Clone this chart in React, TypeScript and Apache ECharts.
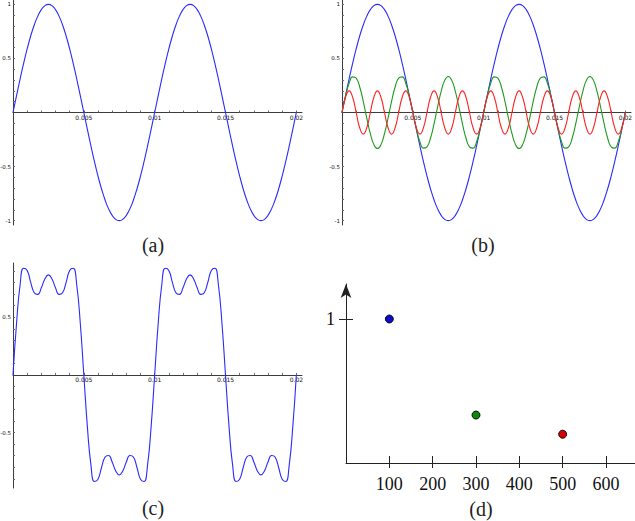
import React, { useEffect, useRef } from "react";
import * as echarts from "echarts";

// sampling grid of the waveforms (seconds)
const TIME_STEP = 0.00025;

// fundamental, 100 Hz
const fundamental = [
  0, 0.156, 0.309, 0.454, 0.588, 0.707, 0.809, 0.891, 0.951, 0.988, 1,
  0.988, 0.951, 0.891, 0.809, 0.707, 0.588, 0.454, 0.309, 0.156, 0,
  -0.156, -0.309, -0.454, -0.588, -0.707, -0.809, -0.891, -0.951, -0.988, -1,
  -0.988, -0.951, -0.891, -0.809, -0.707, -0.588, -0.454, -0.309, -0.156, 0,
  0.156, 0.309, 0.454, 0.588, 0.707, 0.809, 0.891, 0.951, 0.988, 1,
  0.988, 0.951, 0.891, 0.809, 0.707, 0.588, 0.454, 0.309, 0.156, 0,
  -0.156, -0.309, -0.454, -0.588, -0.707, -0.809, -0.891, -0.951, -0.988, -1,
  -0.988, -0.951, -0.891, -0.809, -0.707, -0.588, -0.454, -0.309, -0.156, 0,
];

// third harmonic, 300 Hz
const thirdHarmonic = [
  0, 0.151, 0.27, 0.329, 0.317, 0.236, 0.103, -0.052, -0.196, -0.297, -0.333,
  -0.297, -0.196, -0.052, 0.103, 0.236, 0.317, 0.329, 0.27, 0.151, 0,
  -0.151, -0.27, -0.329, -0.317, -0.236, -0.103, 0.052, 0.196, 0.297, 0.333,
  0.297, 0.196, 0.052, -0.103, -0.236, -0.317, -0.329, -0.27, -0.151, 0,
  0.151, 0.27, 0.329, 0.317, 0.236, 0.103, -0.052, -0.196, -0.297, -0.333,
  -0.297, -0.196, -0.052, 0.103, 0.236, 0.317, 0.329, 0.27, 0.151, 0,
  -0.151, -0.27, -0.329, -0.317, -0.236, -0.103, 0.052, 0.196, 0.297, 0.333,
  0.297, 0.196, 0.052, -0.103, -0.236, -0.317, -0.329, -0.27, -0.151, 0,
];

// fifth harmonic, 500 Hz
const fifthHarmonic = [
  0, 0.141, 0.2, 0.141, 0, -0.141, -0.2, -0.141,
  0, 0.141, 0.2, 0.141, 0, -0.141, -0.2, -0.141,
  0, 0.141, 0.2, 0.141, 0, -0.141, -0.2, -0.141,
  0, 0.141, 0.2, 0.141, 0, -0.141, -0.2, -0.141,
  0, 0.141, 0.2, 0.141, 0, -0.141, -0.2, -0.141,
  0, 0.141, 0.2, 0.141, 0, -0.141, -0.2, -0.141,
  0, 0.141, 0.2, 0.141, 0, -0.141, -0.2, -0.141,
  0, 0.141, 0.2, 0.141, 0, -0.141, -0.2, -0.141,
  0, 0.141, 0.2, 0.141, 0, -0.141, -0.2, -0.141,
  0, 0.141, 0.2, 0.141, 0, -0.141, -0.2, -0.141,
  0,
];

// sum of the three components
const combinedWave = [
  0, 0.448, 0.779, 0.924, 0.905, 0.802, 0.712, 0.698, 0.755, 0.832, 0.867,
  0.832, 0.755, 0.698, 0.712, 0.802, 0.905, 0.924, 0.779, 0.448, 0,
  -0.448, -0.779, -0.924, -0.905, -0.802, -0.712, -0.698, -0.755, -0.832, -0.867,
  -0.832, -0.755, -0.698, -0.712, -0.802, -0.905, -0.924, -0.779, -0.448, 0,
  0.448, 0.779, 0.924, 0.905, 0.802, 0.712, 0.698, 0.755, 0.832, 0.867,
  0.832, 0.755, 0.698, 0.712, 0.802, 0.905, 0.924, 0.779, 0.448, 0,
  -0.448, -0.779, -0.924, -0.905, -0.802, -0.712, -0.698, -0.755, -0.832, -0.867,
  -0.832, -0.755, -0.698, -0.712, -0.802, -0.905, -0.924, -0.779, -0.448, 0,
];

// spectrum (d)
const spectrumFreq = [100, 300, 500];
const spectrumAmp = [1, 0.333, 0.2];
const spectrumColors = ["#0a0ad0", "#078a07", "#d80000"];

// tick labels / tick positions
const waveXLabels = [0.005, 0.01, 0.015, 0.02];
const waveXMinor = [
  0.001, 0.002, 0.003, 0.004, 0.005, 0.006, 0.007, 0.008, 0.009, 0.01,
  0.011, 0.012, 0.013, 0.014, 0.015, 0.016, 0.017, 0.018, 0.019, 0.02,
];
const waveYLabelsAB = [-1, -0.5, 0.5, 1];
const waveYLabelsC = [-0.5, 0.5];
const waveYMinor = [
  -1, -0.9, -0.8, -0.7, -0.6, -0.5, -0.4, -0.3, -0.2, -0.1,
  0.1, 0.2, 0.3, 0.4, 0.5, 0.6, 0.7, 0.8, 0.9, 1,
];
const waveYMinorC = [
  -0.9, -0.8, -0.7, -0.6, -0.5, -0.4, -0.3, -0.2, -0.1,
  0.1, 0.2, 0.3, 0.4, 0.5, 0.6, 0.7, 0.8, 0.9,
];
const freqTicks = [100, 200, 300, 400, 500, 600];
const ampTicks = [1];
const panelLabels = ["(a)", "(b)", "(c)", "(d)"];

const BLUE = "#2a2aff";
const GREEN = "#1f9a1f";
const RED = "#ff2222";
const AXIS = "#3c3c3c";
const SERIF = "'Liberation Serif', 'DejaVu Serif', serif";

const pts = (vals: number[]) => vals.map((v, i) => [i * TIME_STEP, v]);

// x axis drawn through y = 0 (offset upwards from the grid's bottom edge)
function waveX(gridIndex: number, zeroOffset: number) {
  return {
    type: "value",
    gridIndex,
    position: "bottom",
    offset: -zeroOffset,
    min: 0,
    max: 0.0204,
    axisLine: { show: true, onZero: false, lineStyle: { color: AXIS, width: 1 } },
    axisTick: {
      show: true,
      inside: true,
      length: 2,
      customValues: waveXMinor,
      lineStyle: { color: "#666", width: 1 },
    },
    axisLabel: {
      show: true,
      customValues: waveXLabels,
      formatter: (v: number) => String(v),
      fontSize: 6,
      fontFamily: "DejaVu Sans",
      color: "#111",
      margin: 2,
    },
    splitLine: { show: false },
  };
}

function waveY(gridIndex: number, min: number, max: number, labels: number[], minor: number[]) {
  return {
    type: "value",
    gridIndex,
    position: "left",
    min,
    max,
    axisLine: { show: true, onZero: false, lineStyle: { color: AXIS, width: 1 } },
    axisTick: {
      show: true,
      inside: true,
      length: 2,
      customValues: minor,
      lineStyle: { color: "#666", width: 1 },
    },
    axisLabel: {
      show: true,
      customValues: labels,
      formatter: (v: number) => String(v),
      fontSize: 5.5,
      fontFamily: "DejaVu Sans",
      color: "#111",
      margin: 2,
    },
    splitLine: { show: false },
  };
}

function lineSeries(x: number, y: number, vals: number[], color: string) {
  return {
    type: "line",
    xAxisIndex: x,
    yAxisIndex: y,
    data: pts(vals),
    smooth: true,
    showSymbol: false,
    symbol: "none",
    lineStyle: { color, width: 1.1 },
    itemStyle: { color },
    silent: true,
  };
}

export default function App() {
  const ref = useRef<HTMLDivElement>(null);

  useEffect(() => {
    if (!ref.current) return;
    const chart = echarts.init(ref.current, undefined, { renderer: "svg" });

    const option: any = {
      animation: false,
      backgroundColor: "#ffffff",
      grid: [
        { left: 13, top: 0, width: 289, height: 225, containLabel: false, outerBoundsMode: "none" },
        { left: 342, top: 0, width: 289, height: 225, containLabel: false, outerBoundsMode: "none" },
        { left: 13, top: 263, width: 289, height: 225, containLabel: false, outerBoundsMode: "none" },
        { left: 346, top: 284, right: 0, height: 179, containLabel: false, outerBoundsMode: "none" },
      ],
      xAxis: [
        waveX(0, 112.5),
        waveX(1, 112.5),
        waveX(2, 113.1),
        {
          type: "value",
          gridIndex: 3,
          position: "bottom",
          min: 0,
          max: 667,
          axisLine: { show: true, onZero: false, lineStyle: { color: "#222", width: 1 } },
          axisTick: { show: true, inside: false, length: 5, customValues: freqTicks, lineStyle: { color: "#222", width: 1 } },
          axisLabel: {
            show: true,
            customValues: freqTicks,
            formatter: (v: number) => String(v),
            fontSize: 18,
            fontFamily: SERIF,
            color: "#111",
            margin: 12,
          },
          splitLine: { show: false },
        },
        {
          type: "value",
          gridIndex: 3,
          position: "bottom",
          min: 0,
          max: 667,
          axisLine: { show: false, onZero: false },
          axisTick: { show: true, inside: true, length: 7, customValues: freqTicks, lineStyle: { color: "#222", width: 1 } },
          axisLabel: { show: false },
          splitLine: { show: false },
        },
      ],
      yAxis: [
        waveY(0, -1.04, 1.04, waveYLabelsAB, waveYMinor),
        waveY(1, -1.04, 1.04, waveYLabelsAB, waveYMinor),
        waveY(2, -0.98, 0.97, waveYLabelsC, waveYMinorC),
        {
          type: "value",
          gridIndex: 3,
          position: "left",
          min: 0,
          max: 1.243,
          axisLine: {
            show: true,
            onZero: false,
            symbol: ["none", "arrow"],
            symbolSize: [8, 14],
            lineStyle: { color: "#222", width: 1 },
          },
          axisTick: { show: true, inside: false, length: 7, customValues: ampTicks, lineStyle: { color: "#222", width: 1 } },
          axisLabel: {
            show: true,
            customValues: ampTicks,
            formatter: (v: number) => String(v),
            fontSize: 18,
            fontFamily: SERIF,
            color: "#111",
            margin: 11,
          },
          splitLine: { show: false },
        },
        {
          type: "value",
          gridIndex: 3,
          position: "left",
          min: 0,
          max: 1.243,
          axisLine: { show: false, onZero: false },
          axisTick: { show: true, inside: true, length: 7, customValues: ampTicks, lineStyle: { color: "#222", width: 1 } },
          axisLabel: { show: false },
          splitLine: { show: false },
        },
      ],
      series: [
        lineSeries(0, 0, fundamental, BLUE),
        lineSeries(1, 1, fundamental, BLUE),
        lineSeries(1, 1, thirdHarmonic, GREEN),
        lineSeries(1, 1, fifthHarmonic, RED),
        lineSeries(2, 2, combinedWave, BLUE),
        {
          type: "scatter",
          xAxisIndex: 3,
          yAxisIndex: 3,
          symbol: "circle",
          symbolSize: 8,
          data: spectrumFreq.map((f, i) => ({
            value: [f, spectrumAmp[i]],
            itemStyle: { color: spectrumColors[i], borderColor: "#111", borderWidth: 1, opacity: 1 },
          })),
          itemStyle: { opacity: 1 },
          silent: true,
        },
      ],
      graphic: [
        { type: "text", x: 153, y: 245, style: { text: panelLabels[0], font: `20px ${SERIF}`, fill: "#222", align: "center", verticalAlign: "middle" } },
        { type: "text", x: 483, y: 245, style: { text: panelLabels[1], font: `20px ${SERIF}`, fill: "#222", align: "center", verticalAlign: "middle" } },
        { type: "text", x: 153, y: 508, style: { text: panelLabels[2], font: `20px ${SERIF}`, fill: "#222", align: "center", verticalAlign: "middle" } },
        { type: "text", x: 481, y: 509, style: { text: panelLabels[3], font: `20px ${SERIF}`, fill: "#222", align: "center", verticalAlign: "middle" } },
      ],
    };

    chart.setOption(option);
    return () => {
      chart.dispose();
    };
  }, []);

  return (
    <div
      ref={ref}
      style={{ position: "fixed", left: 0, top: 0, width: 635, height: 521, background: "#fff" }}
    />
  );
}
